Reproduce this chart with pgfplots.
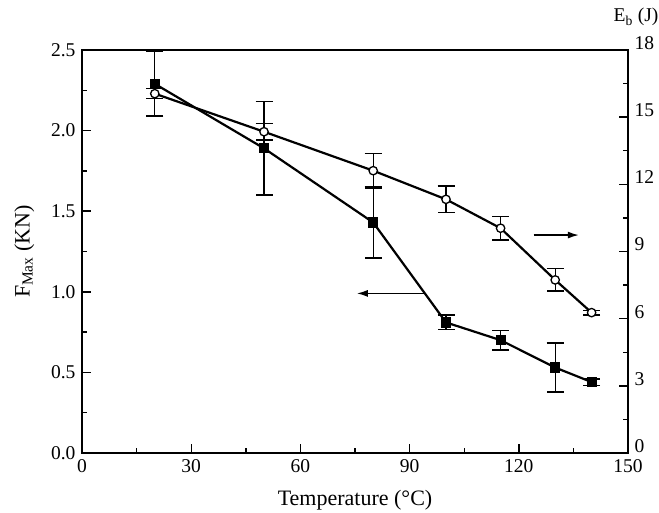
\documentclass[border=0pt]{standalone}
\usepackage{fontspec}
\setmainfont{Liberation Serif}
\usepackage{pgfplots}
\pgfplotsset{compat=1.18}
\usetikzlibrary{arrows.meta}
\pgfplotstableread{
x    y     e
20   2.29  0.20
50   1.89  0.29
80   1.43  0.22
100  0.81  0.045
115  0.70  0.06
130  0.53  0.152
140  0.44  0.02
}\fdata
\pgfplotstableread{
x    y      e
20   16.05  0.22
50   14.35  0.37
80   12.61  0.78
100  11.33  0.60
115  10.04  0.53
130  7.73   0.50
140  6.27   0.10
}\edata
\begin{document}
\fontsize{19}{22}\selectfont
\begin{tikzpicture}
\pgfplotsset{
  every axis/.append style={
    scale only axis, width=546pt, height=403pt, xmin=0, xmax=150,
    /pgf/number format/assume math mode=true,
    tick align=inside, major tick length=9pt, minor tick length=5pt,
    every tick/.style={black, line width=1.4pt},
    axis line style={line width=1.6pt},
    tick label style={font=\fontsize{19.5}{22}\selectfont},
    label style={font=\fontsize{22}{26}\selectfont},
  }
}
\begin{axis}[name=ax, ymin=0, ymax=2.5,
  xtick={0,30,60,90,120,150}, ytick={0,0.5,1,1.5,2,2.5},
  minor x tick num=1, minor y tick num=1,
  xtick pos=bottom, ytick pos=left,
  yticklabel style={/pgf/number format/fixed, /pgf/number format/fixed zerofill, /pgf/number format/precision=1},
  xlabel={Temperature (°C)}, ylabel={F\textsubscript{Max} (KN)},
  xlabel style={yshift=-5pt}, ylabel style={yshift=4pt}]
\addplot[black, line width=2.2pt, mark=square*, mark size=4pt, mark options={solid},
  error bars/.cd, y dir=both, y explicit,
  error bar style={line width=1.4pt},
  error mark options={rotate=90, mark size=8.5pt, line width=1.4pt}]
  table[x=x, y=y, y error=e] {\fdata};
\draw[line width=1.5pt, -{Latex[length=11pt,width=7pt]}] (axis cs:94.4,0.99) -- (axis cs:75.5,0.99);
\draw[line width=1.5pt, -{Latex[length=11pt,width=7pt]}] (axis cs:124.1,1.352) -- (axis cs:136.5,1.352);
\end{axis}
\begin{axis}[ymin=0, ymax=18, ytick={0,3,6,9,12,15,18}, minor y tick num=1,
  axis y line*=right, axis x line=none, ytick pos=right,
  yticklabel style={yshift=7pt}]
\addplot[black, line width=2.2pt, mark=*, mark size=4.2pt, mark options={solid, fill=white, line width=1.3pt},
  error bars/.cd, y dir=both, y explicit,
  error bar style={line width=1.4pt},
  error mark options={rotate=90, mark size=8.5pt, line width=1.4pt}]
  table[x=x, y=y, y error=e] {\edata};
\end{axis}
\node[anchor=base, inner sep=0pt, font=\fontsize{19.5}{22}\selectfont] at ([shift={(8pt,28pt)}]ax.north east) {E\textsubscript{b} (J)};
\pgfresetboundingbox
\path ([shift={(-82pt,-59pt)}]ax.south west) rectangle ([shift={(31pt,50pt)}]ax.north east);
\end{tikzpicture}
\end{document}
